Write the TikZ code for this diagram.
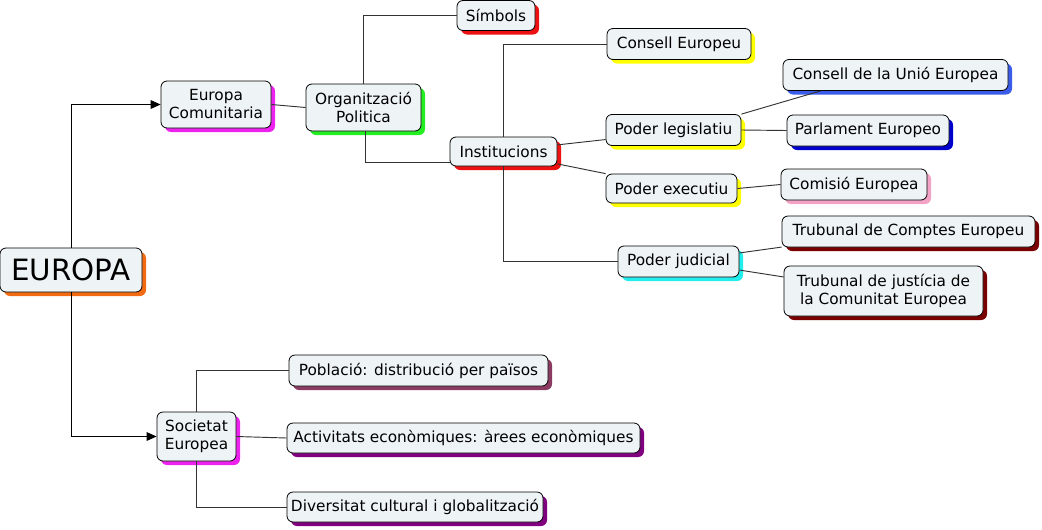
\documentclass[tikz,border=0pt]{standalone}
\usepackage{fontspec}
\setmainfont{DejaVu Sans}
\usetikzlibrary{arrows.meta, shadows}
\definecolor{boxfill}{HTML}{EEF3F5}
\definecolor{linegray}{HTML}{333333}
\definecolor{cOr}{HTML}{F26B12}
\definecolor{cMg}{HTML}{EE22EE}
\definecolor{cGr}{HTML}{22EE22}
\definecolor{cRd}{HTML}{EE1111}
\definecolor{cYe}{HTML}{FFFF00}
\definecolor{cBl}{HTML}{3A5CE8}
\definecolor{cNv}{HTML}{0000CC}
\definecolor{cPk}{HTML}{F2A2C4}
\definecolor{cCy}{HTML}{22EEEE}
\definecolor{cDr}{HTML}{7A0000}
\definecolor{cMr}{HTML}{8B3A62}
\definecolor{cPu}{HTML}{800080}

\begin{document}
\begin{tikzpicture}[x=0.75pt, y=-0.75pt,
  concept/.style={draw=black, line width=0.6pt, fill=boxfill, rounded corners=4.5pt,
    align=center, inner sep=0pt, font=\fontsize{11.5}{13.5}\selectfont,
    drop shadow={shadow xshift=3pt, shadow yshift=-3pt, opacity=1, fill=#1}},
  link/.style={draw=linegray, line width=0.7pt},
  arrowlink/.style={draw=black, line width=0.75pt, -{Triangle[length=7.5pt, width=6.5pt]}}]
  \useasboundingbox (0,0) rectangle (1042,529);
  % concepts: name/x/y/width/height/shadow/text
  \foreach \nm/\px/\py/\bw/\bh/\col/\lab in {
    europa/71/270/142/44/cOr/{\fontsize{22}{26}\selectfont EUROPA},
    comunitaria/216/104.5/110/47/cMg/{Europa\\Comunitaria},
    organitzacio/363.5/107.5/115/47/cGr/{Organització\\Politica},
    simbols/496/15.5/78/30/cRd/{Símbols},
    institucions/503.5/151.5/107/29/cRd/{Institucions},
    consell/679/44/144/31/cYe/{Consell Europeu},
    unio/895.5/75/225/31/cBl/{Consell de la Unió Europea},
    legislatiu/673.5/130/135/31/cYe/{Poder legislatiu},
    parlament/868/130.5/162/31/cNv/{Parlament Europeo},
    executiu/671.5/188.5/131/29/cYe/{Poder executiu},
    comisio/854/184.5/146/31/cPk/{Comisió Europea},
    judicial/678.5/261.5/121/31/cCy/{Poder judicial},
    comptes/908.5/231.5/253/31/cDr/{Trubunal de Comptes Europeu},
    justicia/883.5/291/199/50/cDr/{Trubunal de justícia de\\la Comunitat Europea},
    societat/196.5/436.5/79/49/cMg/{Societat\\Europea},
    poblacio/418.5/370.5/259/31/cMr/{Població: distribució per països},
    activitats/463.5/438/353/30/cPu/{Activitats econòmiques: àrees econòmiques},
    diversitat/415/507/256/30/cPu/{Diversitat cultural i globalització}}{
    \node[concept=\col, minimum width=\bw*0.75pt, minimum height=\bh*0.75pt] (\nm) at (\px,\py) {\lab};
  }
  % main branches
  \draw[arrowlink] (europa.north) |- (comunitaria.west);
  \draw[arrowlink] (europa.south) |- (societat.west);
  % europa comunitaria
  \draw[link] (comunitaria.east) -- (organitzacio.west);
  \draw[link] (organitzacio.north) |- (simbols.west);
  \draw[link] ([xshift=1.5pt]organitzacio.south) |- (institucions.192);
  \draw[link] (institucions.north) |- (consell.west);
  \draw[link] (institucions.south) |- (judicial.west);
  \draw[link] (institucions.7) -- (legislatiu.188);
  \draw[link] (institucions.-13) -- (executiu.north west);
  \draw[link] (legislatiu.north east) -- (unio.192);
  \draw[link] (legislatiu.east) -- (parlament.west);
  \draw[link] (executiu.east) -- (comisio.west);
  \draw[link] (judicial.8) -- (comptes.187);
  \draw[link] (judicial.-8) -- (justicia.172);
  % societat europea
  \draw[link] (societat.north) |- (poblacio.west);
  \draw[link] (societat.east) -- (activitats.west);
  \draw[link] (societat.south) |- (diversitat.west);
\end{tikzpicture}
\end{document}
